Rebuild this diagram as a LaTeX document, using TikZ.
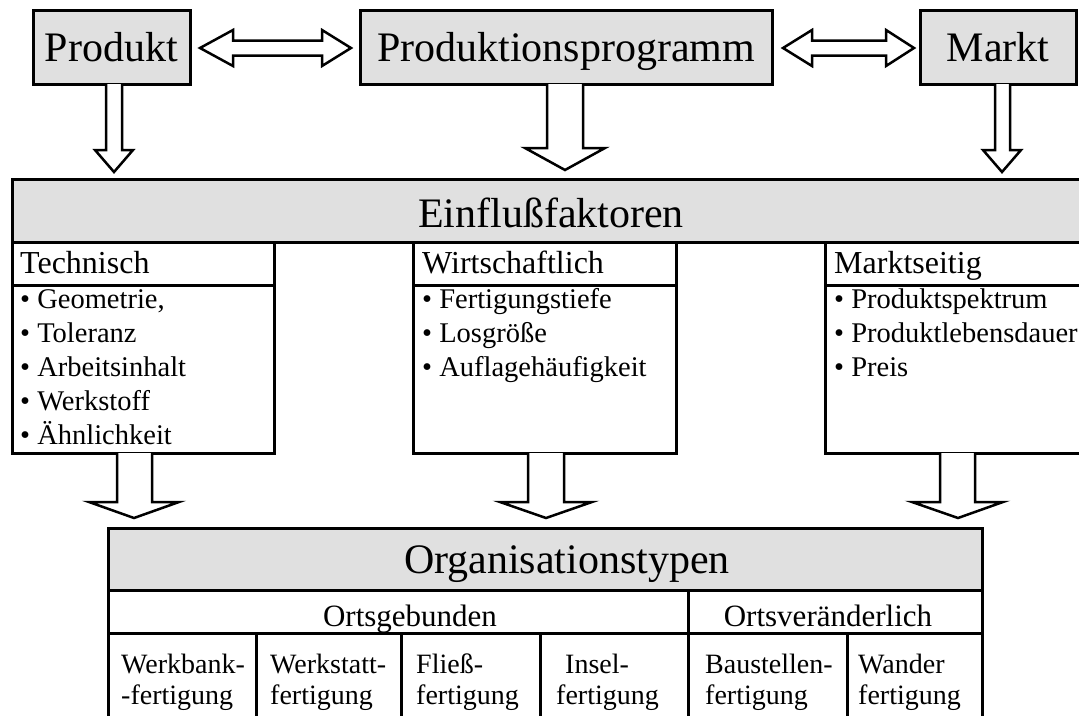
\documentclass[tikz,border=0pt]{standalone}
\usepackage{fontspec}
\setmainfont{Liberation Serif}
\definecolor{boxgray}{RGB}{224,224,224}
\begin{document}
\begin{tikzpicture}[x=1pt,y=-1pt,line join=miter,
  graybox/.style={draw,line width=3pt,fill=boxgray,inner sep=0pt,text height=29pt,text depth=0pt,font=\fontsize{42}{48}\selectfont},
  plainbox/.style={draw,line width=3pt,fill=white,inner sep=0pt},
  blockarrow/.style={draw,line width=2.5pt,fill=white,line join=miter},
  subhead/.style={anchor=base west,inner sep=0pt,font=\fontsize{32}{36}\selectfont},
  item/.style={anchor=base west,inner sep=0pt,font=\fontsize{28.5}{32}\selectfont},
  midtext/.style={anchor=base,inner sep=0pt,font=\fontsize{31}{34}\selectfont},
  celltext/.style={anchor=base west,inner sep=0pt,font=\fontsize{28}{32}\selectfont},
  bigtext/.style={anchor=base,inner sep=0pt,font=\fontsize{42}{48}\selectfont}]
\clip (0,0) rectangle (1079,715);
\fill[white] (0,0) rectangle (1079,715);

% top row
\node[graybox,minimum width=157pt,minimum height=74pt] (produkt) at (111.5,47) {Produkt};
\node[graybox,minimum width=412pt,minimum height=74pt] (programm) at (566,47) {Produktionsprogramm};
\node[graybox,minimum width=156pt,minimum height=74pt] (markt) at (998,47) {Markt};

% horizontal double arrows
\draw[blockarrow] (200,48) -- (233,30) -- (233,40.5) -- (322,40.5) -- (322,30) -- (351,48)
  -- (322,66) -- (322,55.5) -- (233,55.5) -- (233,66) -- cycle;
\draw[blockarrow] (783,48) -- (812,30) -- (812,40.5) -- (886,40.5) -- (886,30) -- (914,48)
  -- (886,66) -- (886,55.5) -- (812,55.5) -- (812,66) -- cycle;

% Einflussfaktoren bar
\node[graybox,minimum width=1078pt,minimum height=63pt,text height=33pt] (einfluss) at (551,210.5) {Einflußfaktoren};

% down arrows from top boxes
\draw[blockarrow] (106,84) -- (106,150) -- (95,150) -- (114,172) -- (133,150) -- (122,150) -- (122,84);
\draw[blockarrow] (547,84) -- (547,148) -- (525,148) -- (565,170) -- (605,148) -- (583,148) -- (583,84);
\draw[blockarrow] (995,84) -- (995,150) -- (983,150) -- (1002,172) -- (1021,150) -- (1010,150) -- (1010,84);

% sub boxes
\node[plainbox,minimum width=262pt,minimum height=211pt] (tech) at (143,347.5) {};
\draw[line width=3pt] (12,285) -- (274,285);
\node[subhead] (techh) at (20,273) {Technisch};
\node[item] (t1) at (20,308) {\textbullet\ Geometrie,};
\node[item] (t2) at (20,342) {\textbullet\ Toleranz};
\node[item] (t3) at (20,376) {\textbullet\ Arbeitsinhalt};
\node[item] (t4) at (20,410) {\textbullet\ Werkstoff};
\node[item] (t5) at (20,444) {\textbullet\ Ähnlichkeit};

\node[plainbox,minimum width=263pt,minimum height=211pt] (wirt) at (544.5,347.5) {};
\draw[line width=3pt] (413,285) -- (676,285);
\node[subhead] (wirth) at (422,273) {Wirtschaftlich};
\node[item] (w1) at (422,308) {\textbullet\ Fertigungstiefe};
\node[item] (w2) at (422,342) {\textbullet\ Losgröße};
\node[item] (w3) at (422,376) {\textbullet\ Auflagehäufigkeit};

\node[plainbox,minimum width=270pt,minimum height=211pt] (markts) at (960,347.5) {};
\draw[line width=3pt] (825,285) -- (1095,285);
\node[subhead] (marktsh) at (834,273) {Marktseitig};
\node[item] (m1) at (834,308) {\textbullet\ Produktspektrum};
\node[item] (m2) at (834,342) {\textbullet\ Produktlebensdauer};
\node[item] (m3) at (834,376) {\textbullet\ Preis};

% down arrows to Organisationstypen
\draw[blockarrow] (117,453) -- (117,502) -- (89,502) -- (134,518) -- (179,502) -- (152,502) -- (152,453);
\draw[blockarrow] (528,453) -- (528,502) -- (500,502) -- (546,518) -- (592,502) -- (564,502) -- (564,453);
\draw[blockarrow] (940,453) -- (940,502) -- (912,502) -- (958,518) -- (1003,502) -- (975,502) -- (975,453);

% Organisationstypen
\node[plainbox,fill=boxgray,minimum width=874pt,minimum height=62pt] (org) at (545,559) {};
\node[bigtext] (orgt) at (567,573) {Organisationstypen};
\node[plainbox,minimum width=580pt,minimum height=43pt] (ortsg) at (398,611.5) {};
\node[plainbox,minimum width=294pt,minimum height=43pt] (ortsv) at (835,611.5) {};
\node[midtext] (ortsgt) at (410,626) {Ortsgebunden};
\node[midtext] (ortsvt) at (828,626) {Ortsveränderlich};

\node[plainbox,minimum width=148pt,minimum height=100pt] (c1) at (182,683) {};
\node[plainbox,minimum width=145pt,minimum height=100pt] (c2) at (328.5,683) {};
\node[plainbox,minimum width=139pt,minimum height=100pt] (c3) at (470.5,683) {};
\node[plainbox,minimum width=148pt,minimum height=100pt] (c4) at (614,683) {};
\node[plainbox,minimum width=159pt,minimum height=100pt] (c5) at (767.5,683) {};
\node[plainbox,minimum width=135pt,minimum height=100pt] (c6) at (914.5,683) {};

\node[celltext] (c1a) at (121,673) {Werkbank-};
\node[celltext] (c1b) at (121,704) {-fertigung};
\node[celltext] (c2a) at (270,673) {Werkstatt-};
\node[celltext] (c2b) at (270,704) {fertigung};
\node[celltext] (c3a) at (416,673) {Fließ-};
\node[celltext] (c3b) at (416,704) {fertigung};
\node[celltext] (c4a) at (565,673) {Insel-};
\node[celltext] (c4b) at (556,704) {fertigung};
\node[celltext] (c5a) at (705,673) {Baustellen-};
\node[celltext] (c5b) at (705,704) {fertigung};
\node[celltext] (c6a) at (858,673) {Wander};
\node[celltext] (c6b) at (858,704) {fertigung};
\end{tikzpicture}
\end{document}
